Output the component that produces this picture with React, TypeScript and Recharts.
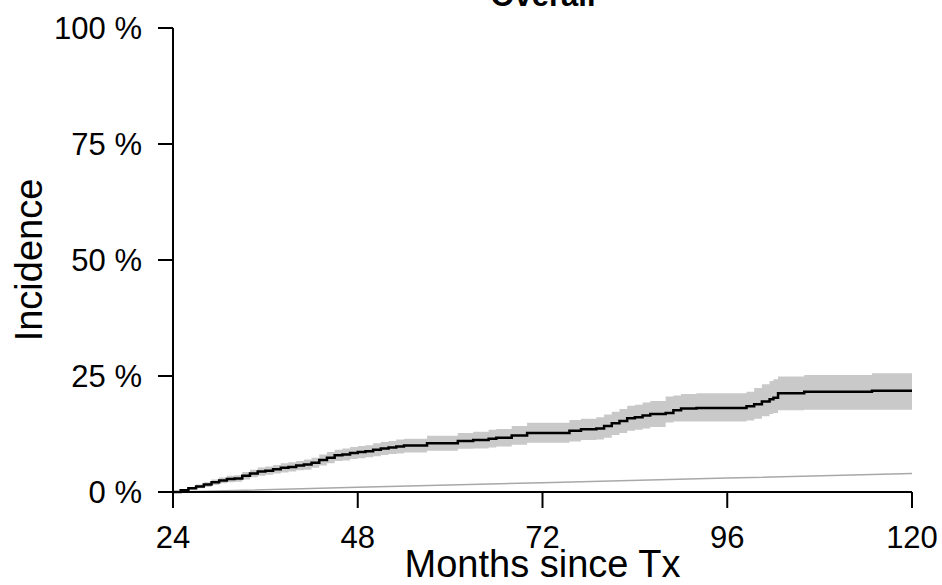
import { ComposedChart, Area, Line, XAxis, YAxis, Label } from "recharts"

const months = [
  24, 25, 26, 27, 28, 29, 30, 31, 32, 33, 34, 35, 36, 37, 38, 39, 40, 41, 42, 43, 44, 45, 46, 47, 48,
  49, 50, 51, 52, 53, 54, 57, 61, 63, 65, 66, 68, 70, 75.5, 77, 79, 80, 81, 82, 83, 84, 85, 86, 88,
  89, 90, 92, 98.5, 99.5, 100.5, 101.5, 102, 102.6, 106, 114.8, 120,
]
const incidence = [
  0, 0.4, 0.8, 1.2, 1.6, 2.1, 2.5, 2.8, 2.9, 3.5, 4.0, 4.4, 4.6, 4.9, 5.2, 5.4, 5.7, 5.9, 6.3, 6.9, 7.4, 7.9, 8.1, 8.4, 8.6,
  8.8, 9.1, 9.4, 9.6, 9.8, 10.0, 10.5, 11.0, 11.2, 11.5, 11.7, 12.2, 12.7, 13.2, 13.5, 13.7, 14.2, 14.8, 15.3, 15.9, 16.1, 16.5, 16.8, 17.0,
  17.6, 18.0, 18.1, 18.5, 18.9, 19.5, 20.0, 20.3, 21.3, 21.6, 21.8, 21.7,
]
const lower = [
  0, 0.3, 0.5, 0.8, 1.1, 1.5, 1.9, 2.1, 2.2, 2.7, 3.2, 3.5, 3.7, 4.0, 4.2, 4.4, 4.7, 4.8, 5.2, 5.7, 6.2, 6.7, 6.8, 7.1, 7.3,
  7.5, 7.7, 8.0, 8.2, 8.3, 8.5, 8.9, 9.3, 9.4, 9.6, 9.8, 10.2, 10.6, 10.9, 11.2, 11.3, 11.7, 12.3, 12.7, 13.2, 13.4, 13.7, 14.0, 15.0,
  15.2, 15.2, 15.2, 15.4, 15.8, 16.3, 16.8, 17.0, 17.6, 17.7, 17.7, 17.7,
]
const upper = [
  0, 0.5, 1.1, 1.6, 2.1, 2.7, 3.1, 3.5, 3.6, 4.3, 4.8, 5.3, 5.5, 5.8, 6.2, 6.4, 6.7, 7.0, 7.4, 8.1, 8.6, 9.1, 9.4, 9.7, 9.9,
  10.1, 10.5, 10.8, 11.0, 11.3, 11.5, 12.1, 12.7, 13.0, 13.4, 13.6, 14.2, 14.9, 15.5, 15.8, 16.1, 16.7, 17.3, 17.9, 18.6, 18.8, 19.3, 19.6, 20.6,
  20.8, 21.1, 21.3, 21.6, 22.4, 23.2, 23.9, 24.3, 24.9, 25.2, 25.6, 25.6,
]

// expected (background) incidence, thin grey line
const expMonths = [24, 48, 72, 96, 120]
const expected = [0, 1.0, 2.0, 3.0, 4.0]

const xTicks = [24, 48, 72, 96, 120]
const yTicks = [0, 25, 50, 75, 100]

const data = months.map((t, i) => ({
  t,
  inc: incidence[i],
  band: [lower[i], upper[i]],
}))
const expData = expMonths.map((t, i) => ({ t, exp: expected[i] }))

const font = "'Liberation Sans', Arial, sans-serif"

export default function App() {
  return (
    <div style={{ position: "absolute", left: 0, top: 0, width: 942, height: 585, background: "#fff", fontFamily: font }}>
      <div
        style={{
          position: "absolute",
          left: 0,
          width: 942,
          top: -22,
          textAlign: "center",
          paddingLeft: 144,
          boxSizing: "border-box",
          fontSize: 31,
          fontWeight: "bold",
          lineHeight: "36px",
        }}
      >
        Overall
      </div>
      <ComposedChart width={942} height={585} data={data} margin={{ top: 28, right: 30, left: 0, bottom: 0 }}>
        <XAxis
          dataKey="t"
          type="number"
          domain={[24, 120]}
          ticks={xTicks}
          height={93}
          stroke="#000"
          strokeWidth={2}
          tickSize={16}
          tickMargin={18}
          tick={{ fill: "#000", fontSize: 31, fontFamily: font }}
          allowDataOverflow
        >
          <Label
            content={({ viewBox }: any) => (
              <text
                x={viewBox.x + viewBox.width / 2}
                y={577}
                textAnchor="middle"
                fontSize={38}
                fontFamily={font}
                fill="#000"
              >
                Months since Tx
              </text>
            )}
          />
        </XAxis>
        <YAxis
          type="number"
          domain={[0, 100]}
          ticks={yTicks}
          width={173}
          stroke="#000"
          strokeWidth={2}
          tickSize={15}
          tickMargin={16}
          tickFormatter={(v: number) => `${v} %`}
          tick={{ fill: "#000", fontSize: 31, fontFamily: font }}
        >
          <Label
            content={({ viewBox }: any) => (
              <text
                x={42}
                y={viewBox.y + viewBox.height / 2}
                transform={`rotate(-90, 42, ${viewBox.y + viewBox.height / 2})`}
                textAnchor="middle"
                fontSize={38}
                fontFamily={font}
                fill="#000"
              >
                Incidence
              </text>
            )}
          />
        </YAxis>
        <Area
          dataKey="band"
          type="stepAfter"
          stroke="none"
          fill="#c9c9c9"
          fillOpacity={1}
          isAnimationActive={false}
          activeDot={false}
        />
        <Line
          data={expData}
          dataKey="exp"
          type="linear"
          stroke="#a8a8a8"
          strokeWidth={1.5}
          dot={false}
          isAnimationActive={false}
        />
        <Line
          dataKey="inc"
          type="stepAfter"
          stroke="#000"
          strokeWidth={2.5}
          dot={false}
          isAnimationActive={false}
        />
      </ComposedChart>
    </div>
  )
}
